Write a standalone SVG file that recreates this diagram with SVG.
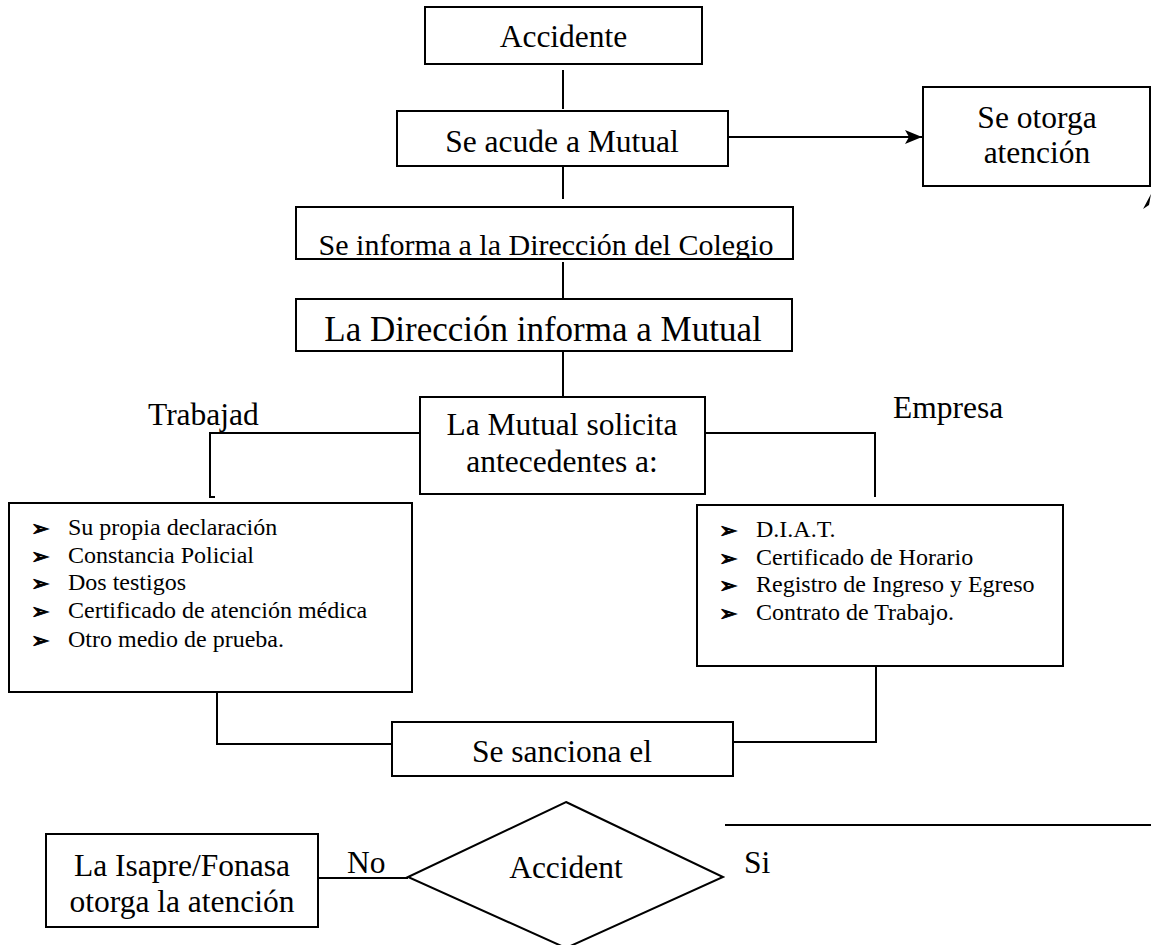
<svg xmlns="http://www.w3.org/2000/svg" width="1151" height="945" viewBox="0 0 1151 945">
<style>
.box{fill:#fff;stroke:#000;stroke-width:2}
.t{font-family:"Liberation Serif","Times New Roman",serif;font-size:31.5px;fill:#000}
.c{text-anchor:middle}
.li{font-family:"Liberation Serif","Times New Roman",serif;font-size:24px;fill:#000}
.bu{font-family:"DejaVu Sans",sans-serif;font-size:22px;fill:#000;stroke:#000;stroke-width:0.9}
.ln{fill:none;stroke:#000;stroke-width:2}
</style>
<defs>
<marker id="arr" markerUnits="userSpaceOnUse" markerWidth="18" markerHeight="14" refX="17" refY="7" orient="auto">
<path d="M0,0 L17,7 L0,14 L4,7 z" fill="#000"/>
</marker>
<clipPath id="clipInforma"><rect x="296" y="207" width="497" height="52"/></clipPath>
<clipPath id="clipTrab"><rect x="100" y="380" width="162" height="60"/></clipPath>
</defs>
<rect width="1151" height="945" fill="#fff"/>
<g id="connectors">
<path class="ln" d="M563,70 V109"/>
<path class="ln" d="M563,162 V199"/>
<path class="ln" d="M563,262 V298"/>
<path class="ln" d="M563,352 V396"/>
<path class="ln" d="M728,137 H922" marker-end="url(#arr)"/>
<path class="ln" d="M420,433 H210 V497 H215"/>
<path class="ln" d="M705,433 H875 V497"/>
<path class="ln" d="M217,693 V744 H392"/>
<path class="ln" d="M876,663 V742 H733"/>
<path class="ln" d="M318,878 H408"/>
<path class="ln" d="M725,825 H1151"/>
<polygon points="1151,194 1143,209 1149,205" fill="#000"/>
</g>
<g id="n-accidente">
<rect class="box" x="425" y="7" width="277" height="57"/>
<text class="t c" x="563.5" y="47">Accidente</text>
</g>
<g id="n-acude">
<rect class="box" x="397" y="111" width="331" height="55"/>
<text class="t c" x="562" y="152">Se acude a Mutual</text>
</g>
<g id="n-otorga">
<rect class="box" x="923" y="87" width="227" height="99"/>
<text class="t c" x="1037" y="128">Se otorga</text>
<text class="t c" x="1037" y="163">atención</text>
</g>
<g id="n-informa">
<rect class="box" x="296" y="207" width="497" height="52"/>
<text class="t c" x="546" y="255" style="font-size:30px" clip-path="url(#clipInforma)">Se informa a la Dirección del Colegio</text>
</g>
<g id="n-direccion">
<rect class="box" x="296" y="299" width="496" height="52"/>
<text class="t c" x="543" y="341" style="font-size:35px">La Dirección informa a Mutual</text>
</g>
<g id="n-solicita">
<rect class="box" x="420" y="397" width="285" height="97"/>
<text class="t c" x="562" y="435">La Mutual solicita</text>
<text class="t c" x="562" y="472">antecedentes a:</text>
</g>
<g id="l-trabajad">
<text class="t" x="148" y="425" clip-path="url(#clipTrab)">Trabajad</text>
</g>
<g id="l-empresa">
<text class="t" x="893" y="418">Empresa</text>
</g>
<g id="n-trabajador-list">
<rect class="box" x="9" y="503" width="403" height="189"/>
<text class="bu" x="31" y="536">➢</text><text class="li" x="68" y="535">Su propia declaración</text>
<text class="bu" x="31" y="564">➢</text><text class="li" x="68" y="563">Constancia Policial</text>
<text class="bu" x="31" y="591">➢</text><text class="li" x="68" y="590">Dos testigos</text>
<text class="bu" x="31" y="619">➢</text><text class="li" x="68" y="618">Certificado de atención médica</text>
<text class="bu" x="31" y="648">➢</text><text class="li" x="68" y="647">Otro medio de prueba.</text>
</g>
<g id="n-empresa-list">
<rect class="box" x="697" y="505" width="366" height="161"/>
<text class="bu" x="719" y="538">➢</text><text class="li" x="756" y="537">D.I.A.T.</text>
<text class="bu" x="719" y="566">➢</text><text class="li" x="756" y="565">Certificado de Horario</text>
<text class="bu" x="719" y="593">➢</text><text class="li" x="756" y="592">Registro de Ingreso y Egreso</text>
<text class="bu" x="719" y="621">➢</text><text class="li" x="756" y="620">Contrato de Trabajo.</text>
</g>
<g id="n-sanciona">
<rect class="box" x="392" y="722" width="341" height="54"/>
<text class="t c" x="562" y="762">Se sanciona el</text>
</g>
<g id="n-isapre">
<rect class="box" x="46" y="834" width="272" height="93"/>
<text class="t c" x="182" y="876">La Isapre/Fonasa</text>
<text class="t c" x="182" y="912">otorga la atención</text>
</g>
<g id="n-decision">
<polygon class="box" points="566,802 723,877 566,948 408,877"/>
<text class="t c" x="566" y="878">Accident</text>
</g>
<g id="labels">
<text class="t" x="347" y="873">No</text>
<text class="t" x="744" y="873">Si</text>
</g>
</svg>
